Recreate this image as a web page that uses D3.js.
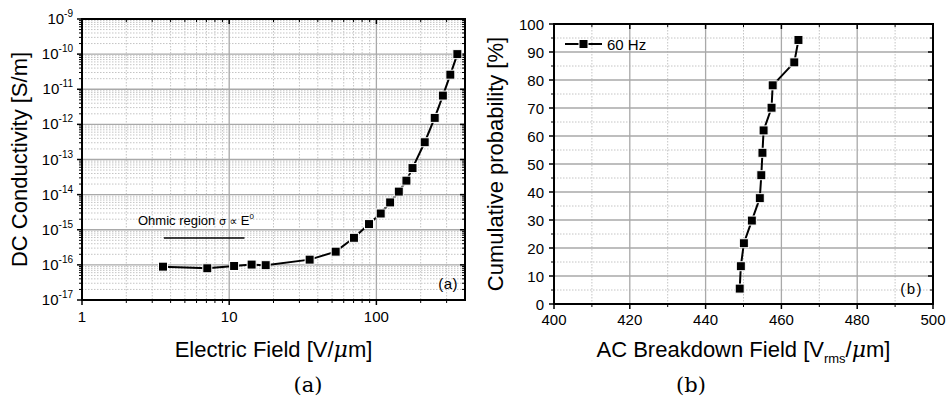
<!DOCTYPE html>
<html><head><meta charset="utf-8">
<script src="https://cdn.jsdelivr.net/npm/d3@7/dist/d3.min.js"></script>
<style>
body{margin:0;background:#fff}
svg{display:block}
text{font-family:"Liberation Sans",Arial,Helvetica,sans-serif;fill:#000}
</style>
</head><body>
<svg id="c" width="950" height="400"></svg>
<script>
// ---------- Data: panel (a) ----------
const fieldA = [3.55, 7.1, 10.8, 14.2, 17.7, 35.2, 52.9, 70.4, 89.1, 107, 124, 142, 160, 176, 213, 249, 283, 318, 355];
const condA  = [8.9e-17, 8.0e-17, 9.3e-17, 1.02e-16, 9.8e-17, 1.41e-16, 2.38e-16, 5.9e-16, 1.45e-15, 2.9e-15, 6.0e-15, 1.22e-14, 2.5e-14, 5.7e-14, 3.1e-13, 1.53e-12, 6.6e-12, 2.6e-11, 1.0e-10];
const expTicksA = [-17, -16, -15, -14, -13, -12, -11, -10, -9];
const xTicksA = [1, 10, 100];
const ohmicX = [3.6, 12.7];
const ohmicY = 5.8e-16;

// ---------- Data: panel (b) ----------
const breakdownB = [449.0, 449.3, 450.1, 452.2, 454.3, 454.7, 455.0, 455.3, 457.4, 457.7, 463.4, 464.5];
const probB      = [5.5, 13.5, 21.7, 29.8, 37.8, 46.0, 54.0, 62.0, 70.1, 78.1, 86.3, 94.3];
const xTicksB = [400, 420, 440, 460, 480, 500];
const yTicksB = [0, 10, 20, 30, 40, 50, 60, 70, 80, 90, 100];
const legendB = "60 Hz";

const svg = d3.select("#c");
const MAJ = "#a9a9a9", MIN = "#c4c4c4";

function frameAndGrid(g, x, y, xMaj, xMin, yMaj, yMin, L, R, T, B) {
  // minor grid
  g.selectAll(null).data(xMin).join("line")
    .attr("x1", d => x(d)).attr("x2", d => x(d)).attr("y1", T).attr("y2", B)
    .attr("stroke", MIN).attr("stroke-width", 1).attr("stroke-dasharray", "1.5,1.5");
  g.selectAll(null).data(yMin).join("line")
    .attr("y1", d => y(d)).attr("y2", d => y(d)).attr("x1", L).attr("x2", R)
    .attr("stroke", MIN).attr("stroke-width", 1).attr("stroke-dasharray", "1.5,1.5");
  // major grid
  g.selectAll(null).data(xMaj.filter(d => Math.abs(x(d) - L) > 2 && Math.abs(x(d) - R) > 2)).join("line")
    .attr("x1", d => x(d)).attr("x2", d => x(d)).attr("y1", T).attr("y2", B)
    .attr("stroke", MAJ).attr("stroke-width", 1.3);
  g.selectAll(null).data(yMaj.filter(d => Math.abs(y(d) - T) > 2 && Math.abs(y(d) - B) > 2)).join("line")
    .attr("y1", d => y(d)).attr("y2", d => y(d)).attr("x1", L).attr("x2", R)
    .attr("stroke", MAJ).attr("stroke-width", 1.3);
  // ticks: bottom/left outward, top/right inward
  const tk = (data, len, w) => {
    g.selectAll(null).data(data.x).join("line")
      .attr("x1", d => x(d)).attr("x2", d => x(d)).attr("y1", B).attr("y2", B + len)
      .attr("stroke", "#000").attr("stroke-width", w);
    g.selectAll(null).data(data.x).join("line")
      .attr("x1", d => x(d)).attr("x2", d => x(d)).attr("y1", T).attr("y2", T + len)
      .attr("stroke", "#000").attr("stroke-width", w);
    g.selectAll(null).data(data.y).join("line")
      .attr("y1", d => y(d)).attr("y2", d => y(d)).attr("x1", L).attr("x2", L - len)
      .attr("stroke", "#000").attr("stroke-width", w);
    g.selectAll(null).data(data.y).join("line")
      .attr("y1", d => y(d)).attr("y2", d => y(d)).attr("x1", R).attr("x2", R - len)
      .attr("stroke", "#000").attr("stroke-width", w);
  };
  tk({x: xMin, y: yMin}, 3, 1);
  tk({x: xMaj, y: yMaj}, 5, 1.5);
  g.append("rect").attr("x", L).attr("y", T).attr("width", R - L).attr("height", B - T)
    .attr("fill", "none").attr("stroke", "#000").attr("stroke-width", 2);
}

function series(g, x, y, xs, ys) {
  const pts = xs.map((v, i) => [x(v), y(ys[i])]);
  g.append("path").attr("d", d3.line()(pts)).attr("fill", "none")
    .attr("stroke", "#000").attr("stroke-width", 2);
  g.selectAll(null).data(pts).join("rect")
    .attr("x", d => d[0] - 4.5).attr("y", d => d[1] - 4.5)
    .attr("width", 9).attr("height", 9)
    .attr("fill", "#000").attr("stroke", "#fff").attr("stroke-width", 1);
}

// ================= Panel (a) =================
{
  const L = 82, R = 465, T = 19, B = 300;
  const x = d3.scaleLog().domain([1, 400]).range([L, R]);
  const y = d3.scaleLog().domain([1e-17, 1e-9]).range([B, T]);
  const xMin = [], yMin = [];
  [1, 10, 100].forEach(dec => { for (let k = 2; k <= 9; k++) { const v = k * dec; if (v < 400) xMin.push(v); } });
  expTicksA.slice(0, -1).forEach(e => { for (let k = 2; k <= 9; k++) yMin.push(k * Math.pow(10, e)); });
  const yMaj = expTicksA.map(e => Math.pow(10, e));
  const g = svg.append("g");
  frameAndGrid(g, x, y, xTicksA, xMin, yMaj, yMin, L, R, T, B);

  // tick labels
  g.selectAll(null).data(xTicksA).join("text")
    .attr("x", d => x(d)).attr("y", B + 22).attr("text-anchor", "middle")
    .attr("font-size", 15).text(d => d);
  const yl = g.selectAll(null).data(expTicksA).join("text")
    .attr("x", 73).attr("y", d => y(Math.pow(10, d)) + 5).attr("text-anchor", "end")
    .attr("font-size", 15);
  yl.append("tspan").text("10");
  yl.append("tspan").attr("dy", -7).attr("font-size", 10).text(d => "-" + Math.abs(d));

  // Ohmic annotation
  g.append("line").attr("x1", x(ohmicX[0])).attr("x2", x(ohmicX[1]))
    .attr("y1", y(ohmicY)).attr("y2", y(ohmicY)).attr("stroke", "#000").attr("stroke-width", 1.5);
  const ot = g.append("text").attr("x", 138).attr("y", 225).attr("font-size", 13);
  ot.append("tspan").text("Ohmic region ");
  ot.append("tspan").attr("font-size", 11).attr("font-family", "DejaVu Sans").text("σ ∝ ");
  ot.append("tspan").text("E");
  ot.append("tspan").attr("dy", -6).attr("font-size", 8).text("0");

  series(g, x, y, fieldA, condA);

  g.append("text").attr("x", 458).attr("y", 289).attr("text-anchor", "end")
    .attr("font-size", 15).attr("letter-spacing", 0.5).text("(a)");

  // axis titles
  const xt = g.append("text").attr("x", (L + R) / 2).attr("y", 357).attr("text-anchor", "middle").attr("font-size", 22);
  xt.append("tspan").text("Electric Field [V/");
  xt.append("tspan").attr("font-style", "italic").attr("font-family", "DejaVu Serif").text("μ");
  xt.append("tspan").text("m]");
  g.append("text").attr("transform", `translate(27,${(T + B) / 2}) rotate(-90)`)
    .attr("text-anchor", "middle").attr("font-size", 22).text("DC Conductivity [S/m]");

  svg.append("text").attr("x", 308).attr("y", 392).attr("text-anchor", "middle")
    .attr("font-size", 21).style("font-family", "'DejaVu Serif',serif").text("(a)");
}

// ================= Panel (b) =================
{
  const L = 554, R = 933, T = 24, B = 304;
  const x = d3.scaleLinear().domain([400, 500]).range([L, R]);
  const y = d3.scaleLinear().domain([0, 100]).range([B, T]);
  const xMin = xTicksB.slice(0, -1).map(v => v + 10);
  const yMin = yTicksB.slice(0, -1).map(v => v + 5);
  const g = svg.append("g");
  frameAndGrid(g, x, y, xTicksB, xMin, yTicksB, yMin, L, R, T, B);

  g.selectAll(null).data(xTicksB).join("text")
    .attr("x", d => x(d)).attr("y", B + 21).attr("text-anchor", "middle")
    .attr("font-size", 15).text(d => d);
  g.selectAll(null).data(yTicksB).join("text")
    .attr("x", 544).attr("y", d => y(d) + 5.5).attr("text-anchor", "end")
    .attr("font-size", 15).text(d => d);

  series(g, x, y, breakdownB, probB);

  // legend
  g.append("line").attr("x1", 565).attr("x2", 602).attr("y1", 44).attr("y2", 44)
    .attr("stroke", "#000").attr("stroke-width", 2);
  g.append("rect").attr("x", 579).attr("y", 39.5).attr("width", 9).attr("height", 9)
    .attr("fill", "#000").attr("stroke", "#fff").attr("stroke-width", 1);
  g.append("text").attr("x", 607).attr("y", 50).attr("font-size", 15).text(legendB);

  g.append("text").attr("x", 923).attr("y", 294).attr("text-anchor", "end")
    .attr("font-size", 15).attr("letter-spacing", 1.5).text("(b)");

  const xt = g.append("text").attr("x", (L + R) / 2).attr("y", 357).attr("text-anchor", "middle").attr("font-size", 22);
  xt.append("tspan").text("AC Breakdown Field [V");
  xt.append("tspan").attr("dy", 6).attr("font-size", 13).text("rms");
  xt.append("tspan").attr("dy", -6).text("/");
  xt.append("tspan").attr("font-style", "italic").attr("font-family", "DejaVu Serif").text("μ");
  xt.append("tspan").text("m]");
  g.append("text").attr("transform", `translate(503,${(T + B) / 2}) rotate(-90)`)
    .attr("text-anchor", "middle").attr("font-size", 22).text("Cumulative probability [%]");

  svg.append("text").attr("x", 691).attr("y", 392).attr("text-anchor", "middle")
    .attr("font-size", 21).style("font-family", "'DejaVu Serif',serif").text("(b)");
}
</script>
</body></html>
